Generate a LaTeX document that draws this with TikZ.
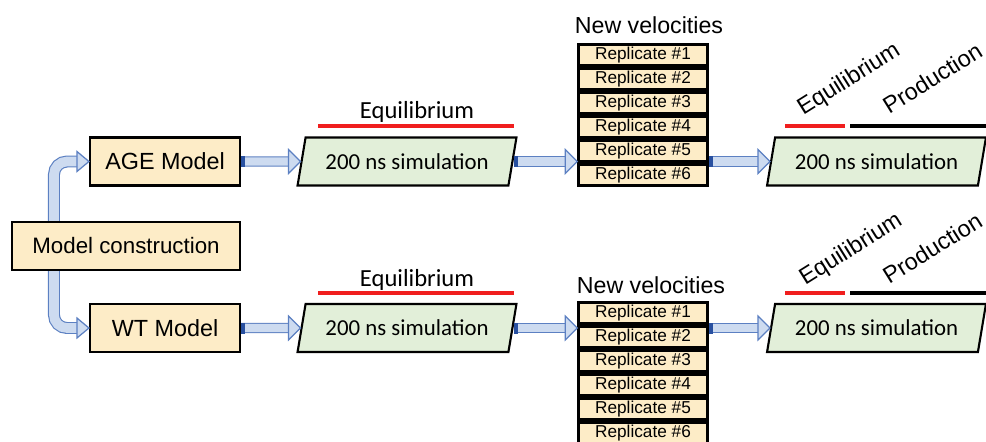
\documentclass[tikz,border=0pt]{standalone}
\usepackage{fontspec}
\setmainfont{Liberation Sans}
\newfontfamily\calfont{Carlito}
\usetikzlibrary{shapes.geometric,calc}

\definecolor{cream}{RGB}{253,236,199}
\definecolor{simgreen}{RGB}{226,239,217}
\definecolor{arrowline}{RGB}{92,128,194}
\definecolor{arrowfill}{RGB}{205,219,240}
\definecolor{arrowdark}{RGB}{40,80,160}
\definecolor{eqred}{RGB}{240,30,30}

\tikzset{
  modelbox/.style={draw=black, line width=1.2pt, fill=cream, minimum height=0.96cm, inner sep=2pt},
  simbox/.style={trapezium, trapezium left angle=76, trapezium right angle=104, trapezium stretches=true,
    draw=black, line width=1.2pt, fill=simgreen, minimum width=4.38cm, minimum height=0.96cm,
    font=\calfont\fontsize{13}{15}\selectfont},
  repbox/.style={draw=black, line width=1.5pt, fill=cream, minimum width=2.58cm, minimum height=0.42cm,
    inner sep=0pt, font=\fontsize{9.8}{11}\selectfont},
  shaftout/.style={draw=arrowline, line width=5.9pt},
  shaftin/.style={draw=arrowfill, line width=4.6pt},
  elbowout/.style={draw=arrowline, line width=6.8pt, rounded corners=0.26cm},
  elbowin/.style={draw=arrowfill, line width=5.5pt, rounded corners=0.26cm},
  arrowhead/.style={fill=arrowfill, draw=arrowline, line width=0.7pt, line join=miter},
  eqline/.style={draw=eqred, line width=2.8pt},
  prodline/.style={draw=black, line width=2.8pt},
  eqlabel/.style={font=\calfont\fontsize{14}{16}\selectfont, anchor=base},
  tilted/.style={rotate=32, anchor=base west, inner sep=0pt, font=\fontsize{13.3}{15}\selectfont},
  velolabel/.style={anchor=base, inner sep=0pt, font=\fontsize{13.2}{15}\selectfont}
}

\newcommand{\blockarrow}[2]{%
  \draw[shaftout] (#1) -- ($(#2)+(-11,0)$);
  \draw[shaftin] (#1) -- ($(#2)+(-11,0)$);
  \fill[arrowdark] ($(#1)+(0,-5.5)$) rectangle ($(#1)+(4,5.5)$);
  \filldraw[arrowhead] (#2) -- ++(-12,-12) -- ++(0,24) -- cycle;
}

\begin{document}
\begin{tikzpicture}[x=0.02cm, y=-0.02cm]
  \useasboundingbox (0,0) rectangle (986,441);

  \node[modelbox, minimum width=4.56cm] (mc) at (126,246) {\fontsize{12.7}{14}\selectfont Model construction};
  \node[modelbox, minimum width=3cm] (age) at (165,161.5) {\fontsize{13.3}{15}\selectfont AGE Model};
  \node[modelbox, minimum width=3cm] (wt) at (165,328) {\fontsize{13.3}{15}\selectfont WT Model};

  \node[simbox] (agesim) at (407,161.5) {200 ns simulation};
  \node[simbox] (wtsim) at (407,328) {200 ns simulation};
  \node[simbox] (agesimb) at (876.5,161.5) {200 ns simulation};
  \node[simbox] (wtsimb) at (876.5,328) {200 ns simulation};

  \foreach \i in {1,...,6} {
    \node[repbox] (ager\i) at (643,31+24*\i) {Replicate \#\i};
    \node[repbox] (wtr\i) at (643,289+24*\i) {Replicate \#\i};
  }

  \node[velolabel] (agevel) at (649,33) {New velocities};
  \node[velolabel] (wtvel) at (651,293) {New velocities};

  \draw[eqline] (318,126) -- (514,126);
  \draw[eqline] (318,293) -- (514,293);
  \node[eqlabel] (ageeq) at (417,118) {Equilibrium};
  \node[eqlabel] (wteq) at (417,286) {Equilibrium};

  \draw[eqline] (785,126) -- (845,126);
  \draw[prodline] (850,126) -- (990,126);
  \draw[eqline] (785,293) -- (845,293);
  \draw[prodline] (850,293) -- (990,293);
  \node[tilted] (ageeqb) at (803,116) {Equilibrium};
  \node[tilted] (ageprod) at (889,115) {Production};
  \node[tilted] (wteqb) at (805,286) {Equilibrium};
  \node[tilted] (wtprod) at (889,285) {Production};

  \draw[elbowout] ($(mc.north west)+(43,0)$) |- ($(age.west)+(-11,0)$);
  \draw[elbowin] ($(mc.north west)+(43,0)$) |- ($(age.west)+(-11,0)$);
  \filldraw[arrowhead] (age.west) -- ++(-12,-10) -- ++(0,20) -- cycle;
  \draw[elbowout] ($(mc.south west)+(43,0)$) |- ($(wt.west)+(-11,0)$);
  \draw[elbowin] ($(mc.south west)+(43,0)$) |- ($(wt.west)+(-11,0)$);
  \filldraw[arrowhead] (wt.west) -- ++(-12,-10) -- ++(0,20) -- cycle;

  \blockarrow{age.east}{agesim.west}
  \blockarrow{agesim.east}{agesim.east -| ager1.west}
  \blockarrow{agesimb.west -| ager1.east}{agesimb.west}
  \blockarrow{wt.east}{wtsim.west}
  \blockarrow{wtsim.east}{wtsim.east -| wtr1.west}
  \blockarrow{wtsimb.west -| wtr1.east}{wtsimb.west}
\end{tikzpicture}
\end{document}
